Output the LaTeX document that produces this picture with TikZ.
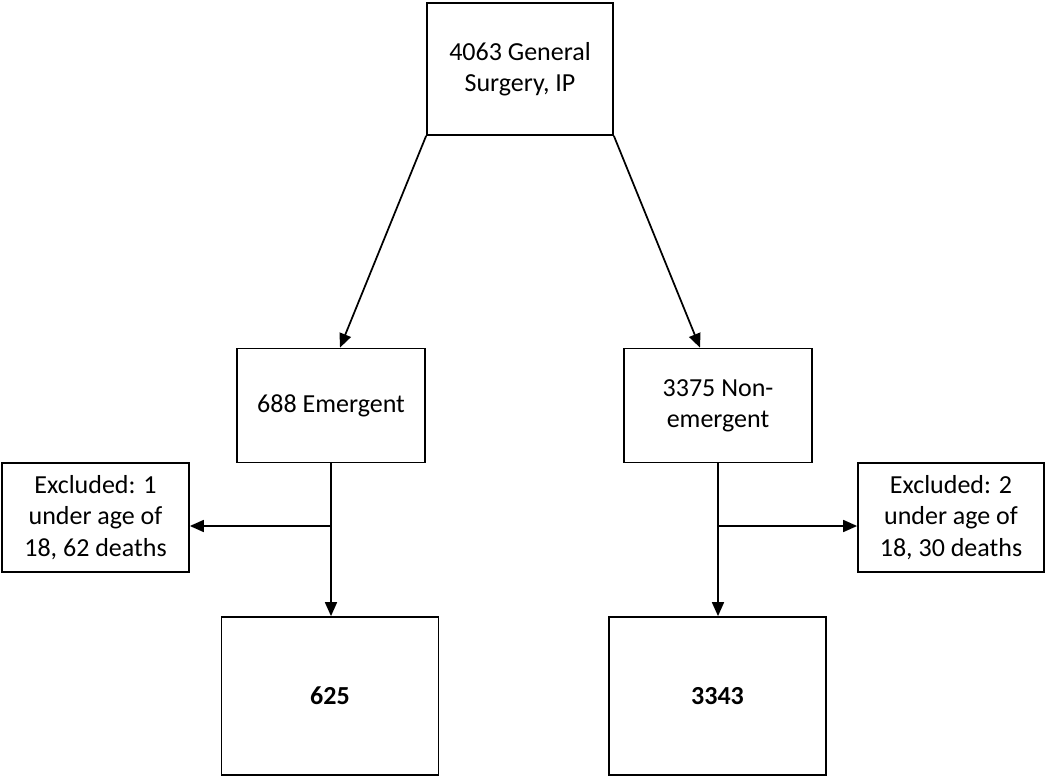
\documentclass[tikz,border=0pt]{standalone}
\usepackage{fontspec}
\setmainfont{Carlito}
\usetikzlibrary{arrows.meta}

\begin{document}
\begin{tikzpicture}[x=0.75pt,y=-0.75pt,
    box/.style={draw,line width=1.3pt,align=center,inner sep=0pt,
                font=\fontsize{19.5}{23.5}\selectfont},
    arr/.style={line width=1.3pt,-{Triangle[length=10.5pt,width=9pt]}}]

    \useasboundingbox (0,0) rectangle (1050,777);

    \path (520,69) node[box,minimum width=186*0.75pt,minimum height=132*0.75pt] (total) {4063 General\\Surgery, IP};

    \path (331,405.5) node[box,minimum width=188*0.75pt,minimum height=114*0.75pt] (emerg) {688 Emergent};
    \path (718,405.5) node[box,minimum width=188*0.75pt,minimum height=114*0.75pt] (nonemerg) {3375 Non-\\emergent};

    \path (95.5,517.5) node[box,minimum width=187*0.75pt,minimum height=109*0.75pt] (exclA) {Excluded: 1\\under age of\\18, 62 deaths};
    \path (951,517.5) node[box,minimum width=186*0.75pt,minimum height=109*0.75pt] (exclB) {Excluded: 2\\under age of\\18, 30 deaths};

    \path (330,696) node[box,minimum width=217*0.75pt,minimum height=158*0.75pt] (finalA) {\textbf{625}};
    \path (717.5,696) node[box,minimum width=217*0.75pt,minimum height=158*0.75pt] (finalB) {\textbf{3343}};

    \draw[arr] (total.south west) -- ([xshift=6.75pt]emerg.north);
    \draw[arr] (total.south east) -- ([xshift=-13.5pt]nonemerg.north);

    \coordinate (splitA) at (emerg.south |- 0,526);
    \coordinate (splitB) at (nonemerg.south |- 0,526);

    \draw[arr] (emerg.south) -- (emerg.south |- finalA.north);
    \draw[arr] (splitA) -- (exclA.east |- splitA);

    \draw[arr] (nonemerg.south) -- (nonemerg.south |- finalB.north);
    \draw[arr] (splitB) -- (exclB.west |- splitB);

\end{tikzpicture}
\end{document}
